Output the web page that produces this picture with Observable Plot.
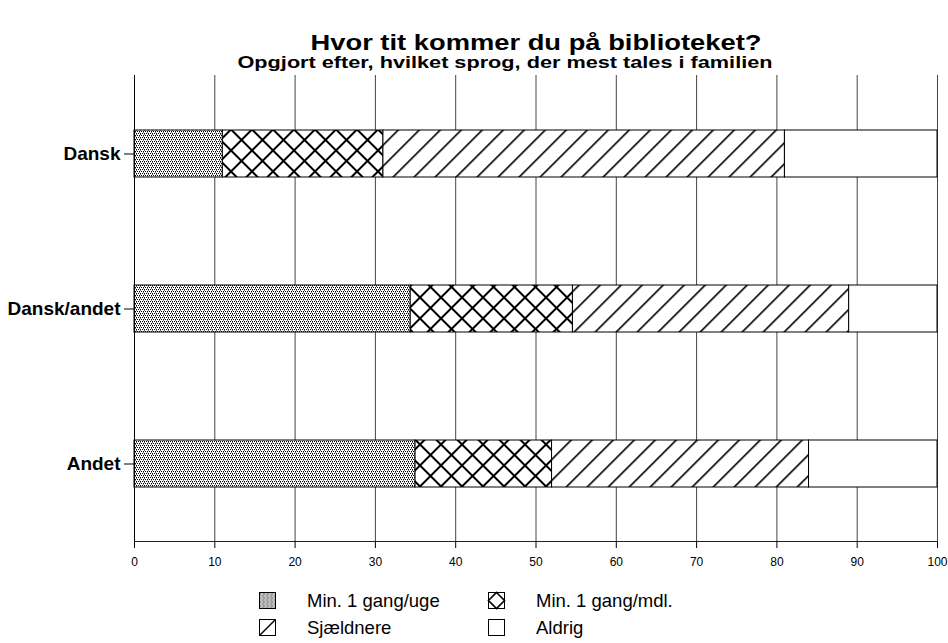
<!DOCTYPE html>
<html><head><meta charset="utf-8">
<script src="https://cdn.jsdelivr.net/npm/d3@7"></script>
<script src="https://cdn.jsdelivr.net/npm/@observablehq/plot@0.6"></script>
<style>
body{margin:0;background:#fff;font-family:"Liberation Sans",Arial,sans-serif;}
#wrap{position:relative;width:948px;height:643px;overflow:hidden;}
#head{position:absolute;left:0;top:0;}
#chart{position:absolute;left:0;top:65px;}
#legend{position:absolute;left:0;top:585px;}
</style></head>
<body>
<div id="wrap">
  <svg width="0" height="0" style="position:absolute">
    <defs>
      <pattern id="pDots" width="4" height="4" patternUnits="userSpaceOnUse">
        <rect width="4" height="4" fill="#fff"/>
        <rect x="0" y="0" width="1" height="1" fill="#000"/>
        <rect x="2" y="0" width="1" height="1" fill="#000"/>
        <rect x="1" y="2" width="1" height="1" fill="#000"/>
        <rect x="3" y="2" width="1" height="1" fill="#000"/>
        <rect x="0" y="1" width="1" height="1" fill="#666"/>
        <rect x="3" y="3" width="1" height="1" fill="#888"/>
      </pattern>
      <pattern id="pCross" width="14.85" height="14.85" patternUnits="userSpaceOnUse" patternTransform="rotate(45)">
        <rect width="14.85" height="14.85" fill="#fff"/>
        <rect x="0" y="0" width="14.85" height="2" fill="#000"/>
        <rect x="0" y="0" width="2" height="14.85" fill="#000"/>
      </pattern>
      <pattern id="pDiag" width="14.85" height="14.85" patternUnits="userSpaceOnUse" patternTransform="rotate(45)">
        <rect width="14.85" height="14.85" fill="#fff"/>
        <rect x="0" y="0" width="1.6" height="14.85" fill="#000"/>
      </pattern>
    </defs>
  </svg>
  <svg id="head" width="948" height="75">
    <text x="536" y="50" text-anchor="middle" font-size="22" font-weight="bold" textLength="451" lengthAdjust="spacingAndGlyphs" font-family="Liberation Sans, Arial, sans-serif">Hvor tit kommer du på biblioteket?</text>
    <text x="505" y="68" text-anchor="middle" font-size="17" font-weight="bold" textLength="535" lengthAdjust="spacingAndGlyphs" font-family="Liberation Sans, Arial, sans-serif">Opgjort efter, hvilket sprog, der mest tales i familien</text>
  </svg>
  <div id="chart"></div>
  <div id="legend"></div>
</div>
<script>
const groups = ["Dansk", "Dansk/andet", "Andet"];
const series = ["Min. 1 gang/uge", "Min. 1 gang/mdl.", "Sjældnere", "Aldrig"];
const dansk = [11, 20, 50, 19];
const danskAndet = [34.4, 20.2, 34.4, 11.0];
const andet = [35, 17, 32, 16];
const xTicks = [0, 10, 20, 30, 40, 50, 60, 70, 80, 90, 100];
const fills = ["url(#pDots)", "url(#pCross)", "url(#pDiag)", "#fff"];

const valuesByGroup = [dansk, danskAndet, andet];
const rows = [];
groups.forEach((g, i) => series.forEach((s, j) => rows.push({group: g, series: s, value: valuesByGroup[i][j]})));

const chart = Plot.plot({
  width: 948, height: 510,
  marginLeft: 134, marginRight: 11, marginTop: 10, marginBottom: 34,
  style: {fontFamily: '"Liberation Sans", Arial, sans-serif', color: "#000", background: "transparent"},
  x: {domain: [0, 100]},
  y: {domain: groups, paddingInner: 0.7, paddingOuter: 0.35},
  color: {domain: series, range: fills},
  marks: [
    Plot.gridX(xTicks, {stroke: "#444", strokeOpacity: 1}),
    Plot.barX(rows, Plot.stackX({x: "value", y: "group", fill: "series", stroke: "#000", strokeWidth: 1, inset: 0})),
    Plot.ruleX([0], {stroke: "#000"}),
    Plot.frame({anchor: "bottom", stroke: "#222"}),
    Plot.axisX(xTicks, {tickSize: 7, tickPadding: 9, fontSize: 12, label: null, tickFormat: d => String(d)}),
    Plot.axisY({tickSize: 10, tickPadding: 4, fontSize: 19, fontWeight: "bold", label: null})
  ]
});
document.getElementById("chart").appendChild(chart);

// Legend
const lg = d3.select("#legend").append("svg").attr("width", 948).attr("height", 58);
const items = [
  {s: series[0], x: 259, y: 7},
  {s: series[1], x: 488, y: 7},
  {s: series[2], x: 259, y: 34},
  {s: series[3], x: 488, y: 34}
];
const w = 16, h = 16;
items.forEach((it, i) => {
  const g = lg.append("g").attr("transform", `translate(${it.x + 0.5},${it.y + 0.5})`);
  g.append("rect").attr("width", w).attr("height", h).attr("fill", i === 0 ? "url(#pDots)" : "#fff").attr("stroke", "#000");
  if (i === 1) {
    g.append("path").attr("d", `M${w/2},0L${w},${h/2}L${w/2},${h}L0,${h/2}Z`).attr("fill", "none").attr("stroke", "#000").attr("stroke-width", 1.6);
  }
  if (i === 2) {
    g.append("path").attr("d", `M0,${h}L${w},0`).attr("stroke", "#000").attr("stroke-width", 1.4);
  }
  lg.append("text").attr("x", it.x + 48).attr("y", it.y + 15).attr("font-size", 18.5).attr("fill", "#000")
    .attr("font-family", '"Liberation Sans", Arial, sans-serif').text(it.s);
});
</script>
</body></html>
